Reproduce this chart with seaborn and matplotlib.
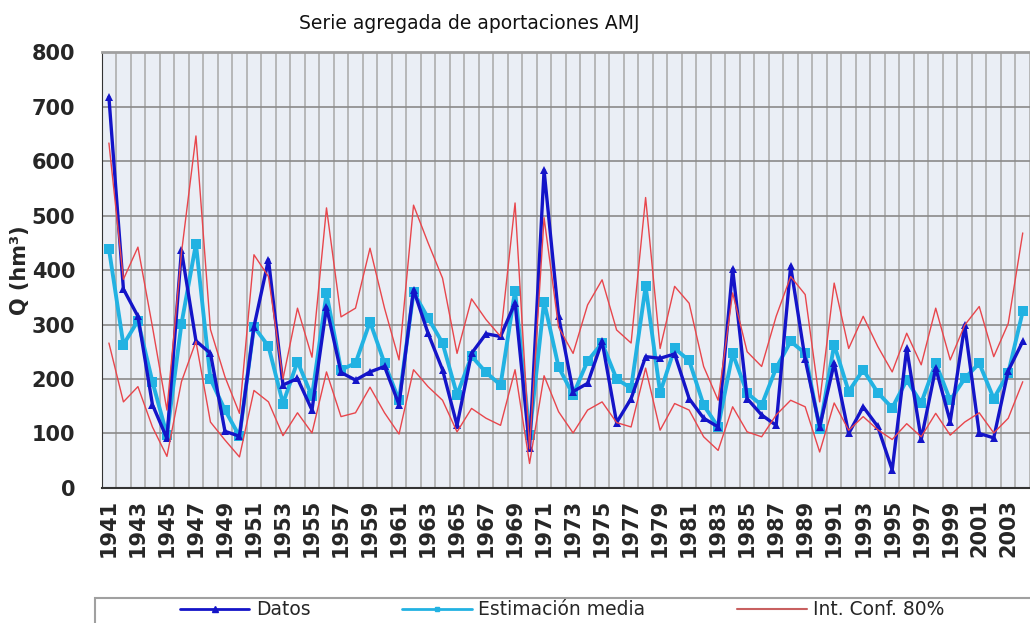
import numpy as np
import pandas as pd
import matplotlib
matplotlib.use("Agg")
import matplotlib.pyplot as plt
from matplotlib.lines import Line2D
from matplotlib.patches import Rectangle
import seaborn as sns

# ----------------------------- #
#  Data
# ----------------------------- #
years = list(range(1941, 2005))

datos = [717, 365, 315, 153, 91, 436, 270, 247, 104, 95,
         296, 419, 189, 201, 143, 332, 212, 198, 213, 223,
         153, 364, 284, 217, 115, 247, 283, 278, 340, 73,
         583, 315, 177, 192, 269, 120, 164, 241, 238, 246,
         164, 128, 112, 402, 164, 134, 115, 407, 236, 112,
         229, 100, 149, 113, 33, 256, 89, 220, 122, 299,
         100, 92, 215, 269]

estimacion = [439, 263, 307, 195, 97, 301, 448, 200, 143, 95,
              296, 260, 155, 232, 168, 357, 217, 229, 305, 229,
              161, 359, 312, 266, 171, 242, 212, 189, 362, 97,
              342, 222, 171, 233, 266, 200, 183, 370, 175, 256,
              234, 152, 112, 247, 174, 152, 220, 269, 247, 109,
              263, 177, 217, 175, 147, 198, 156, 229, 161, 201,
              229, 164, 211, 324]

ic_sup = [633, 383, 442, 296, 143, 431, 646, 291, 204, 137,
          428, 388, 200, 330, 240, 514, 314, 330, 440, 330,
          235, 519, 450, 385, 247, 347, 309, 278, 523, 72,
          496, 295, 247, 336, 382, 290, 266, 533, 256, 370,
          339, 223, 161, 358, 250, 223, 315, 388, 355, 158,
          376, 256, 315, 260, 213, 284, 226, 330, 235, 299,
          333, 241, 302, 468]

ic_inf = [266, 158, 186, 112, 58, 195, 269, 121, 88, 57,
          179, 158, 96, 138, 101, 213, 131, 138, 185, 138,
          99, 217, 186, 161, 103, 146, 128, 115, 217, 45,
          206, 140, 101, 143, 158, 120, 112, 220, 106, 155,
          143, 94, 69, 149, 103, 94, 134, 161, 149, 66,
          156, 106, 131, 107, 89, 118, 94, 137, 97, 121,
          138, 101, 128, 195]

df = pd.DataFrame({"Year": years, "Datos": datos, "Estimacion": estimacion,
                   "Sup": ic_sup, "Inf": ic_inf})

# ----------------------------- #
#  Style
# ----------------------------- #
sns.set_style("white", {"axes.facecolor": "#eaeef5"})
plt.rcParams['font.family'] = ['DejaVu Sans']

C_DATOS = "#1414c8"
C_EST = "#22b2e2"
C_IC = "#e8464c"

fig = plt.figure(figsize=(10.3, 6.23), dpi=100)
ax = fig.add_axes([0.0987, 0.2167, 0.9013, 0.6998])

sns.lineplot(data=df, x="Year", y="Estimacion", ax=ax, color=C_EST, lw=2.8,
             marker="s", markersize=6.5, markeredgewidth=0, zorder=3)
sns.lineplot(data=df, x="Year", y="Datos", ax=ax, color=C_DATOS, lw=2.4,
             marker="^", markersize=6, markeredgewidth=0, zorder=4)
sns.lineplot(data=df, x="Year", y="Sup", ax=ax, color=C_IC, lw=1.0, zorder=5)
sns.lineplot(data=df, x="Year", y="Inf", ax=ax, color=C_IC, lw=1.0, zorder=5)

# ----------------------------- #
#  Axes
# ----------------------------- #
ax.set_xlim(1940.5, 2004.08)
ax.set_ylim(0, 800)
ax.set_yticks(range(0, 801, 100))
ax.set_xticks(years[::2])
ax.set_xticks([y + 0.5 for y in years], minor=True)
ax.tick_params(axis="x", which="major", length=0, pad=8, rotation=90,
               labelsize=15)
ax.tick_params(axis="x", which="minor", length=5, width=1, color="#333333",
               direction="out")
ax.tick_params(axis="y", length=5, width=1, color="#333333", labelsize=15,
               pad=14)
for lab in ax.get_xticklabels() + ax.get_yticklabels():
    lab.set_fontweight("bold")

ax.grid(True, axis="x", which="minor", color="#a8a8a8", lw=1.1)
ax.grid(True, axis="y", which="major", color="#8a8a8a", lw=1.2)
ax.set_axisbelow(True)

ax.spines["top"].set_color("#a0a0a0")
ax.spines["top"].set_linewidth(2)
ax.spines["right"].set_visible(False)
ax.spines["left"].set_color("#333333")
ax.spines["bottom"].set_color("#333333")
ax.spines["bottom"].set_linewidth(1.5)

ax.set_xlabel("")
ax.set_ylabel("Q (hm³)", fontsize=15, fontweight="bold")
ax.yaxis.set_label_coords(-0.077, 0.5)

fig.text(0.456, 0.963, "Serie agregada de aportaciones AMJ", ha="center",
         va="center", fontsize=13.5, color="#111111")

# ----------------------------- #
#  Legend (frame runs off the right/bottom edge like the reference)
# ----------------------------- #
fig.patches.append(Rectangle((0.092, -0.05), 0.95, 0.09, transform=fig.transFigure,
                             facecolor="white", edgecolor="#a0a0a0", lw=1.5,
                             zorder=0))
handles = [Line2D([], [], color=C_DATOS, lw=2, marker="^", markersize=4),
           Line2D([], [], color=C_EST, lw=2, marker="s", markersize=3.5),
           Line2D([], [], color="#c86060", lw=1.5)]
leg = fig.legend(handles, ["Datos", "Estimación media", "Int. Conf. 80%"],
                 loc="center", bbox_to_anchor=(0.546, 0.021), ncol=3,
                 fontsize=13.5, frameon=False, handlelength=3.7,
                 handletextpad=0.35, columnspacing=4.9, borderaxespad=0)

fig.savefig("out.png", dpi=100)
